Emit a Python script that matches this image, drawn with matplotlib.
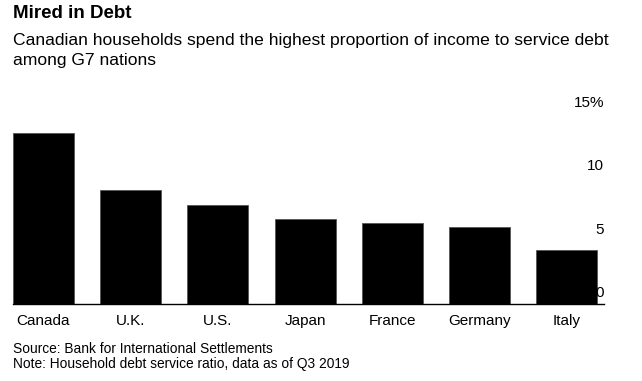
import matplotlib
matplotlib.use("Agg")
import matplotlib.pyplot as plt
import matplotlib.transforms as mtransforms

plt.rcParams['font.family'] = ['Liberation Sans', 'DejaVu Sans']

countries = ['Canada', 'U.K.', 'U.S.', 'Japan', 'France', 'Germany', 'Italy']
debt_ratio = [13.5, 9.0, 7.8, 6.7, 6.4, 6.1, 4.3]
yticks = [0, 5, 10, 15]
ytick_labels = ['0', '5', '10', '15%']

fig = plt.figure(figsize=(6.42, 3.81), dpi=100)
ax = fig.add_axes([0.0202, 0.202, 0.9208, 0.499])

x = range(len(countries))
ax.bar(x, debt_ratio, width=0.70, color='black', edgecolor='#555555', linewidth=0.6)
ax.set_xlim(-0.35, 6.43)
ax.set_ylim(0, 15)

ax.set_xticks(list(x))
ax.set_xticklabels(countries, fontsize=11)
ax.tick_params(axis='x', length=0, pad=7)

ax.yaxis.tick_right()
ax.set_yticks(yticks)
ax.set_yticklabels(ytick_labels, fontsize=11)
ax.tick_params(axis='y', length=0, pad=0)
offset = mtransforms.ScaledTranslation(0, 11 / 100, fig.dpi_scale_trans)
for lab in ax.get_yticklabels():
    lab.set_ha('right')
    lab.set_va('center')
    lab.set_transform(lab.get_transform() + offset)

for s in ['top', 'left', 'right']:
    ax.spines[s].set_visible(False)
ax.spines['bottom'].set_linewidth(1.0)
ax.spines['bottom'].set_color('black')

fig.text(0.0202, 1 - 13 / 381, 'Mired in Debt', fontsize=13.5, fontweight='bold', va='center')
fig.text(0.0202, 1 - 40 / 381, 'Canadian households spend the highest proportion of income to service debt',
         fontsize=12.6, va='center')
fig.text(0.0202, 1 - 60 / 381, 'among G7 nations', fontsize=12.6, va='center')
fig.text(0.0202, 1 - 349 / 381, 'Source: Bank for International Settlements', fontsize=9.9, va='center')
fig.text(0.0202, 1 - 364 / 381, 'Note: Household debt service ratio, data as of Q3 2019', fontsize=9.9, va='center')

fig.savefig('out.png', dpi=100)
